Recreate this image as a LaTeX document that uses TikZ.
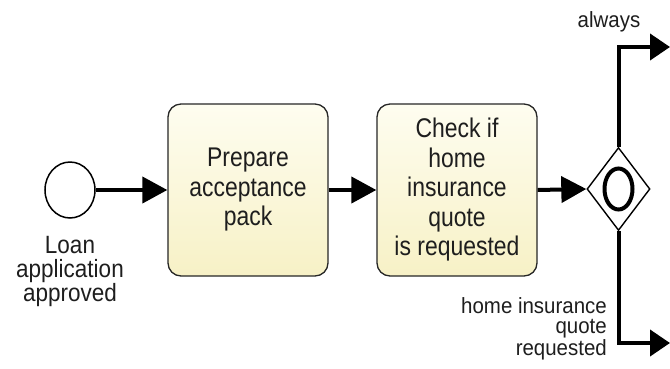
\documentclass[tikz,border=0pt]{standalone}
\usepackage{fontspec}
\setmainfont{Liberation Sans}
\newfontfamily\narrowfont[FakeStretch=0.85]{Liberation Sans}
\newfontfamily\startfont[FakeStretch=0.9]{Liberation Sans}
\newfontfamily\lblfont[FakeStretch=0.93]{Liberation Sans}
\usetikzlibrary{arrows.meta,shapes.geometric}
\definecolor{taskfillA}{HTML}{FEFDF0}
\definecolor{taskfillB}{HTML}{F7F1C6}
\definecolor{txt}{HTML}{1E1E1E}
\begin{document}
\begin{tikzpicture}[x=1pt,y=-1pt,
  flow/.style={line width=4pt, draw=black, -{Triangle[length=25pt,width=26pt]}},
  branch/.style={line width=4pt, draw=black, -{Triangle[length=20pt,width=26pt]}},
  task/.style={draw=black!85, line width=1.3pt, rounded corners=13pt,
    top color=taskfillA, bottom color=taskfillB,
    minimum width=160pt, minimum height=172pt, align=center, inner sep=0pt,
    text=txt, font=\narrowfont\fontsize{27}{29.5}\selectfont},
  startev/.style={ellipse, draw=black, line width=1.5pt, fill=white,
    minimum width=50pt, minimum height=56pt, inner sep=0pt},
  gateway/.style={diamond, draw=black, line width=1.4pt, fill=white,
    minimum width=63pt, minimum height=83pt, inner sep=0pt, aspect=0.76},
  lbl/.style={text=txt, font=\lblfont\fontsize{22}{20.5}\selectfont, inner sep=0pt},
  biglbl/.style={text=txt, font=\startfont\fontsize{25}{24}\selectfont, inner sep=0pt, align=center}
]
\useasboundingbox[fill=white] (0,0) rectangle (670,368);

\node[startev] (start) at (70,190) {};
\node[biglbl, anchor=north] (startlbl) at (70,236) {Loan\\application\\approved};

\node[task] (t1) at (248,190) {Prepare\\acceptance\\pack};
\node[task] (t2) at (457,190) {Check if\\home\\insurance\\quote\\is requested};

\node[gateway] (gw) at (618.5,189) {};
\draw[line width=4pt] (gw.center) ellipse [x radius=14, y radius=20.5];

\coordinate (topend) at (670,47);
\coordinate (botend) at (670,343);

\draw[flow] (start.east) -- (t1.west);
\draw[flow] (t1.east) -- (t2.west);
\draw[flow] (t2.east) -- (gw.west);
\draw[branch] (gw.north) |- (topend);
\draw[branch] (gw.south) |- (botend);

\node[lbl] (alw) at (609,22) {always};
\node[lbl, align=right, anchor=north east] (hiq) at (607,297) {home insurance\\quote\\requested};
\end{tikzpicture}
\end{document}
